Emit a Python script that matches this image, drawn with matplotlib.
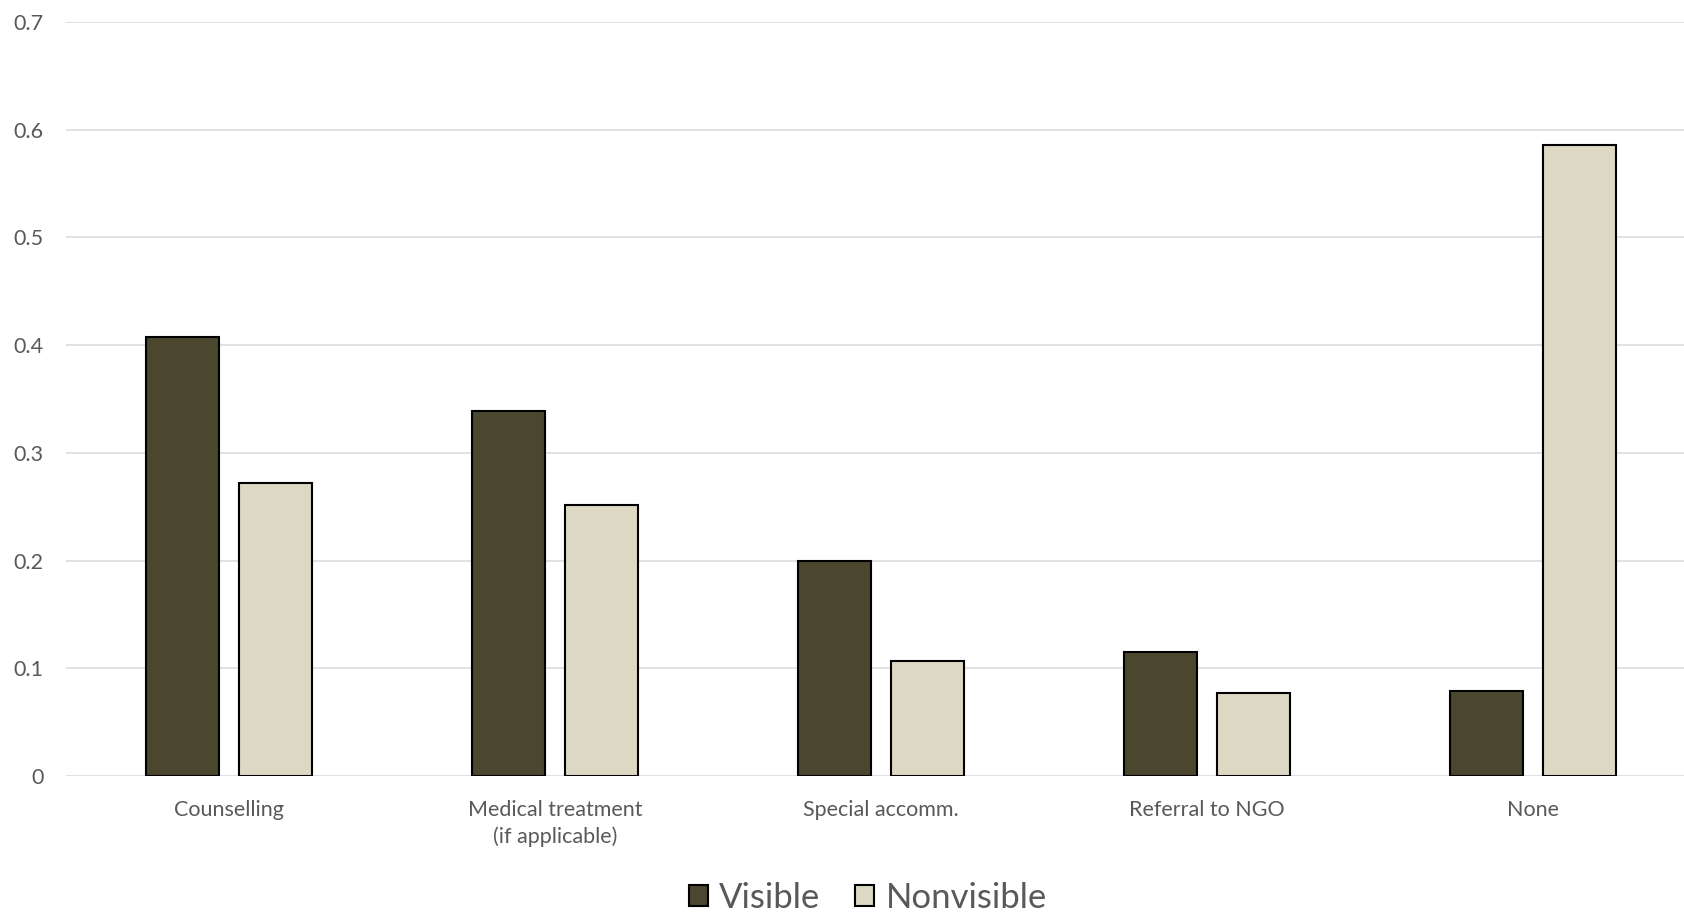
import matplotlib
matplotlib.use("Agg")
import matplotlib.pyplot as plt
import numpy as np

categories = ["Counselling", "Medical treatment\n(if applicable)", "Special accomm.", "Referral to NGO", "None"]
visible = [0.408, 0.339, 0.200, 0.115, 0.079]
nonvisible = [0.272, 0.252, 0.107, 0.077, 0.586]
series_names = ["Visible", "Nonvisible"]
yticks = [0, 0.1, 0.2, 0.3, 0.4, 0.5, 0.6, 0.7]
ytick_labels = ["0", "0.1", "0.2", "0.3", "0.4", "0.5", "0.6", "0.7"]

plt.rcParams['font.family'] = ['Lato', 'DejaVu Sans']

fig = plt.figure(figsize=(16.84, 9.17), dpi=100)
ax = fig.add_axes([66/1684, 1 - 776/917, 1630/1684, (776 - 22)/917])

x = np.arange(len(categories))
w = 0.225
off = 0.143
ax.bar(x - off, visible, w, color="#4B462E", edgecolor="black", linewidth=1.5, label=series_names[0], zorder=3)
ax.bar(x + off, nonvisible, w, color="#DDD8C3", edgecolor="black", linewidth=1.5, label=series_names[1], zorder=3)

ax.set_xlim(-0.5, len(categories) - 0.5)
ax.set_ylim(0, 0.7)
ax.set_yticks(yticks)
ax.set_yticklabels(ytick_labels)
ax.set_xticks(x)
ax.set_xticklabels(categories, linespacing=1.4)
ax.tick_params(axis='both', length=0, colors="#595959", labelsize=15.5)
ax.tick_params(axis='y', pad=16)
ax.tick_params(axis='x', pad=17)
ax.yaxis.grid(True, color="#D9D9D9", linewidth=1.1, zorder=0)
ax.set_axisbelow(True)
for s in ax.spines.values():
    s.set_visible(False)

leg = fig.legend(loc="center", bbox_to_anchor=(868/1684, 1 - 898/917), ncol=2, frameon=False,
                 fontsize=25, handlelength=0.55, handleheight=0.55, handletextpad=0.32,
                 columnspacing=1.0)
for t in leg.get_texts():
    t.set_color("#595959")
for h in leg.legend_handles:
    h.set_linewidth(1.5)

fig.savefig("out.png", dpi=100)
